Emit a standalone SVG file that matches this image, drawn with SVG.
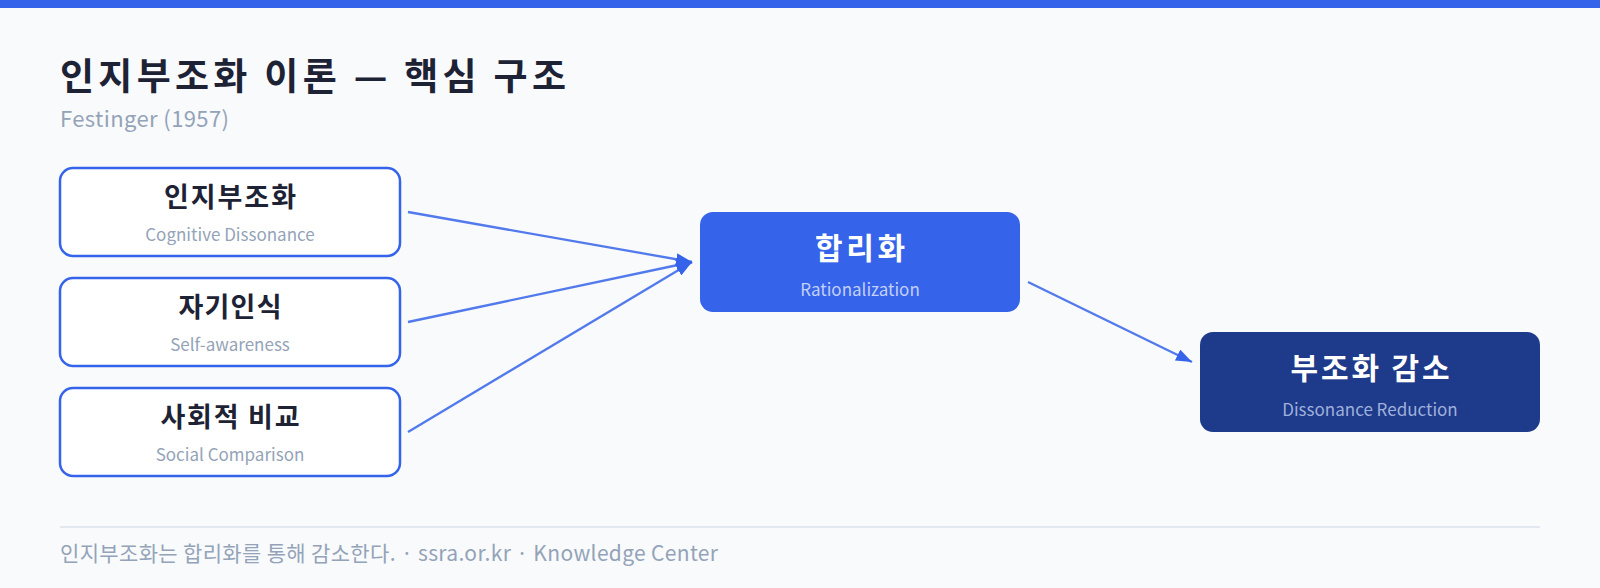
<svg xmlns="http://www.w3.org/2000/svg" width="1600" height="588" viewBox="0 0 1600 588">
  <style>
    text { font-family: "Noto Sans CJK KR", "Noto Sans", sans-serif; }
    .title { font-size: 37px; font-weight: 700; fill: #1e2235; }
    .subtitle { font-size: 22px; fill: #94a3b8; }
    .box { fill: #ffffff; stroke: #3563e9; stroke-width: 2.5; }
    .ntitle { font-size: 27px; font-weight: 700; fill: #1e2235; text-anchor: middle; }
    .nsub { font-size: 17px; fill: #94a3b8; text-anchor: middle; }
    .btitle { font-size: 30px; font-weight: 700; fill: #ffffff; text-anchor: middle; }
    .bsub1 { font-size: 17px; fill: #c3d0fb; text-anchor: middle; }
    .bsub2 { font-size: 17px; fill: #9fb0dc; text-anchor: middle; }
    .edge { stroke: #3563e9; stroke-width: 2.3; stroke-opacity: 0.85; fill: none; marker-end: url(#arrow); }
    .footer { font-size: 21px; fill: #94a3b8; }
  </style>
  <defs>
    <marker id="arrow" markerUnits="userSpaceOnUse" markerWidth="16" markerHeight="12" refX="16" refY="6" orient="auto">
      <path d="M0,0 L16,6 L0,12 z" fill="#3563e9"/>
    </marker>
  </defs>
  <rect x="0" y="0" width="1600" height="588" fill="#f8fafc"/>
  <rect x="0" y="0" width="1600" height="8" fill="#3563e9"/>
  <g id="header">
    <text class="title" x="60" y="90" textLength="506" lengthAdjust="spacing">인지부조화 이론 — 핵심 구조</text>
    <text class="subtitle" x="60" y="127" textLength="169" lengthAdjust="spacing">Festinger (1957)</text>
  </g>
  <g id="connectors">
    <line class="edge" x1="408" y1="212" x2="692" y2="262"/>
    <line class="edge" x1="408" y1="322" x2="692" y2="262"/>
    <line class="edge" x1="408" y1="432" x2="692" y2="262"/>
    <line class="edge" x1="1028" y1="282" x2="1192" y2="362"/>
  </g>
  <g id="node-dissonance">
    <rect class="box" x="60" y="168" width="340" height="88" rx="13"/>
    <text class="ntitle" x="230" y="207" textLength="132" lengthAdjust="spacing">인지부조화</text>
    <text class="nsub" x="230" y="241">Cognitive Dissonance</text>
  </g>
  <g id="node-selfawareness">
    <rect class="box" x="60" y="278" width="340" height="88" rx="13"/>
    <text class="ntitle" x="230" y="317" textLength="103" lengthAdjust="spacing">자기인식</text>
    <text class="nsub" x="230" y="351">Self-awareness</text>
  </g>
  <g id="node-social">
    <rect class="box" x="60" y="388" width="340" height="88" rx="13"/>
    <text class="ntitle" x="230" y="427" textLength="139" lengthAdjust="spacing">사회적 비교</text>
    <text class="nsub" x="230" y="461">Social Comparison</text>
  </g>
  <g id="node-rationalization">
    <rect x="700" y="212" width="320" height="100" rx="13" fill="#3563e9"/>
    <text class="btitle" x="860" y="259" textLength="90" lengthAdjust="spacing">합리화</text>
    <text class="bsub1" x="860" y="296">Rationalization</text>
  </g>
  <g id="node-reduction">
    <rect x="1200" y="332" width="340" height="100" rx="13" fill="#1e3a8a"/>
    <text class="btitle" x="1370" y="379" textLength="159" lengthAdjust="spacing">부조화 감소</text>
    <text class="bsub2" x="1370" y="416">Dissonance Reduction</text>
  </g>
  <g id="footer">
    <rect x="60" y="526" width="1480" height="2" fill="#e2e8f0"/>
    <text class="footer" x="60" y="561" textLength="658" lengthAdjust="spacing">인지부조화는 합리화를 통해 감소한다. · ssra.or.kr · Knowledge Center</text>
  </g>
</svg>
